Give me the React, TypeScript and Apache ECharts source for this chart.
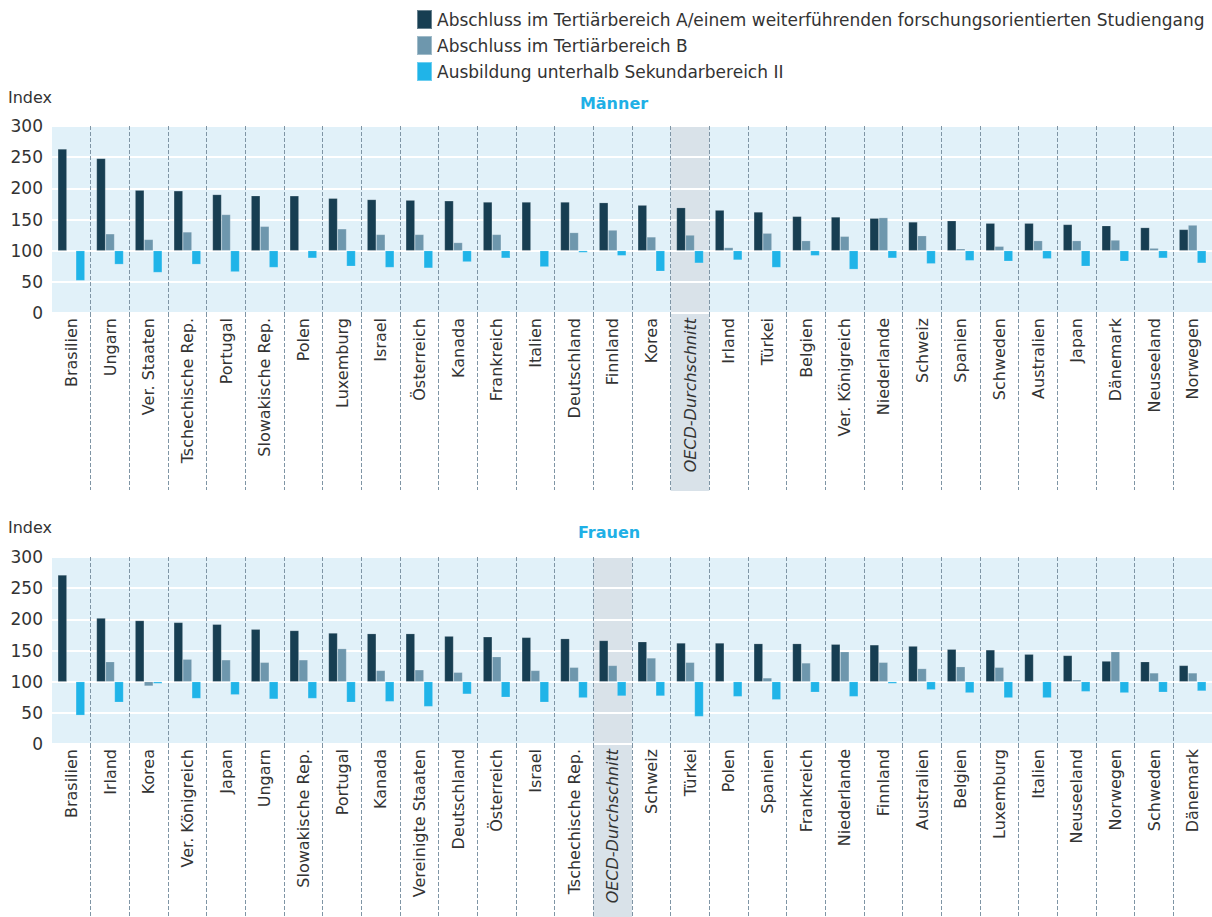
import React, { useEffect, useRef } from 'react';
import * as echarts from 'echarts';

const seriesNames = [
  'Abschluss im Tertiärbereich A/einem weiterführenden forschungsorientierten Studiengang',
  'Abschluss im Tertiärbereich B',
  'Ausbildung unterhalb Sekundarbereich II',
];
const seriesColors = ['#173e52', '#6e97ad', '#20b4e8'];

const menCategories = [
  'Brasilien', 'Ungarn', 'Ver. Staaten', 'Tschechische Rep.', 'Portugal', 'Slowakische Rep.', 'Polen',
  'Luxemburg', 'Israel', 'Österreich', 'Kanada', 'Frankreich', 'Italien', 'Deutschland', 'Finnland',
  'Korea', 'OECD-Durchschnitt', 'Irland', 'Türkei', 'Belgien', 'Ver. Königreich', 'Niederlande',
  'Schweiz', 'Spanien', 'Schweden', 'Australien', 'Japan', 'Dänemark', 'Neuseeland', 'Norwegen',
];
const menA = [263, 248, 197, 196, 190, 188, 188, 184, 182, 181, 180, 178, 178, 178, 177, 173, 169, 165, 162, 155, 154, 152, 146, 148, 144, 144, 142, 140, 137, 134];
const menB = [null, 127, 118, 130, 158, 139, null, 135, 126, 126, 113, 126, null, 129, 133, 122, 125, 105, 128, 116, 123, 153, 124, 103, 107, 116, 116, 117, 104, 141];
const menC = [52, 78, 65, 78, 66, 73, 88, 75, 73, 72, 82, 88, 74, 97, 92, 67, 80, 85, 73, 92, 70, 88, 79, 84, 83, 87, 75, 83, 88, 80];

const womenCategories = [
  'Brasilien', 'Irland', 'Korea', 'Ver. Königreich', 'Japan', 'Ungarn', 'Slowakische Rep.', 'Portugal',
  'Kanada', 'Vereinigte Staaten', 'Deutschland', 'Österreich', 'Israel', 'Tschechische Rep.',
  'OECD-Durchschnitt', 'Schweiz', 'Türkei', 'Polen', 'Spanien', 'Frankreich', 'Niederlande', 'Finnland',
  'Australien', 'Belgien', 'Luxemburg', 'Italien', 'Neuseeland', 'Norwegen', 'Schweden', 'Dänemark',
];
const womenA = [271, 202, 198, 195, 192, 184, 182, 178, 177, 177, 173, 172, 171, 169, 166, 164, 162, 162, 161, 161, 160, 159, 157, 152, 151, 144, 142, 133, 132, 126];
const womenB = [null, 132, 93, 136, 135, 131, 135, 153, 118, 119, 115, 140, 118, 123, 126, 138, 131, null, 106, 130, 148, 131, 121, 124, 123, null, 103, 148, 114, 114];
const womenC = [46, 67, 97, 73, 79, 72, 73, 67, 68, 60, 80, 75, 67, 74, 77, 77, 44, 76, 71, 83, 76, 97, 87, 82, 74, 74, 84, 82, 83, 85];

const BASELINE = 100;
const OECD = 'OECD-Durchschnitt';
const FONT = "'DejaVu Sans', sans-serif";

function buildSeries(gi: number, sets: (number | null)[][]) {
  const out: any[] = [];
  sets.forEach((vals, k) => {
    const stack = 'g' + gi + 's' + k;
    out.push({
      type: 'bar', name: 'base' + gi + k, stack, xAxisIndex: gi, yAxisIndex: gi,
      barWidth: 9, barGap: '0%', silent: true,
      itemStyle: { color: 'rgba(0,0,0,0)' },
      data: vals.map((v) => (v == null ? null : Math.min(v, BASELINE))),
    });
    out.push({
      type: 'bar', name: seriesNames[k], stack, xAxisIndex: gi, yAxisIndex: gi,
      barWidth: 9, barGap: '0%',
      itemStyle: { color: seriesColors[k], borderColor: 'rgba(255,255,255,0.35)', borderWidth: 0.5 },
      data: vals.map((v) => (v == null ? null : Math.abs(v - BASELINE))),
    });
  });
  return out;
}

const skipFirst = (index: number) => index !== 0;

function xAxisFor(gi: number, cats: string[], tickLen: number) {
  return {
    type: 'category', gridIndex: gi, data: cats, z: 3,
    axisLine: { show: false },
    axisTick: { show: true, interval: skipFirst, length: tickLen, lineStyle: { color: '#7f95a5', type: 'dashed', width: 1 } },
    splitLine: { show: true, interval: skipFirst, lineStyle: { color: '#7f95a5', type: 'dashed', width: 1 } },
    axisLabel: {
      interval: 0, rotate: 90, margin: 5, fontSize: 16, color: '#333', fontFamily: FONT,
      formatter: (v: string) => (v === OECD ? '{it|' + v + '}' : v),
      rich: { it: { fontStyle: 'italic', fontSize: 16, color: '#333', fontFamily: FONT } },
    },
  };
}

function yAxisFor(gi: number) {
  return {
    type: 'value', gridIndex: gi, min: 0, max: 300, interval: 50, z: 1.5,
    axisLine: { show: false }, axisTick: { show: false },
    axisLabel: { fontSize: 17, color: '#333', fontFamily: FONT, margin: 9 },
    splitLine: { lineStyle: { color: '#ffffff', width: 2 } },
  };
}

export default function App() {
  const ref = useRef<HTMLDivElement>(null);
  useEffect(() => {
    if (!ref.current) return;
    const chart = echarts.init(ref.current, undefined, { renderer: 'svg' });
    const grids = [
      { left: 52, width: 1160, top: 126, height: 187 },
      { left: 52, width: 1160, top: 557, height: 187 },
    ];
    const option: any = {
      animation: false,
      textStyle: { fontFamily: FONT },
      grid: grids.map((g) => ({ ...g, show: true, backgroundColor: '#e1f1f9', borderWidth: 0 })),
      legend: {
        data: seriesNames, orient: 'vertical', left: 411, top: 4,
        itemWidth: 15, itemHeight: 19, itemGap: 5, icon: 'rect',
        textStyle: { fontSize: 17, color: '#333', fontFamily: FONT },
        selectedMode: false,
      },
      xAxis: [xAxisFor(0, menCategories, 177), xAxisFor(1, womenCategories, 175)],
      yAxis: [yAxisFor(0), yAxisFor(1)],
      series: [
        ...buildSeries(0, [menA, menB, menC]),
        ...buildSeries(1, [womenA, womenB, womenC]),
      ],
    };
    chart.setOption(option);

    const band = (gi: number, cats: string[], bottom: number) => {
      const cx = chart.convertToPixel({ xAxisIndex: gi } as any, OECD) as unknown as number;
      const w = grids[gi].width / cats.length;
      return {
        type: 'rect', z: 1, silent: true,
        shape: { x: cx - w / 2, y: grids[gi].top, width: w, height: bottom - grids[gi].top },
        style: { fill: '#d9e2e9' },
      };
    };
    chart.setOption({
      graphic: [
        band(0, menCategories, 491),
        band(1, womenCategories, 917),
        { type: 'text', x: 8, y: 89, style: { text: 'Index', fontSize: 16, fill: '#333', fontFamily: FONT } },
        { type: 'text', x: 8, y: 519, style: { text: 'Index', fontSize: 16, fill: '#333', fontFamily: FONT } },
        { type: 'text', x: 614, y: 103, style: { text: 'Männer', fontSize: 16, fontWeight: 'bold', fill: '#1fb0e6', align: 'center', verticalAlign: 'middle', fontFamily: FONT } },
        { type: 'text', x: 609, y: 532, style: { text: 'Frauen', fontSize: 16, fontWeight: 'bold', fill: '#1fb0e6', align: 'center', verticalAlign: 'middle', fontFamily: FONT } },
      ],
    });
    return () => chart.dispose();
  }, []);
  return <div ref={ref} style={{ position: 'fixed', left: 0, top: 0, width: 1212, height: 917, background: '#fff' }} />;
}
